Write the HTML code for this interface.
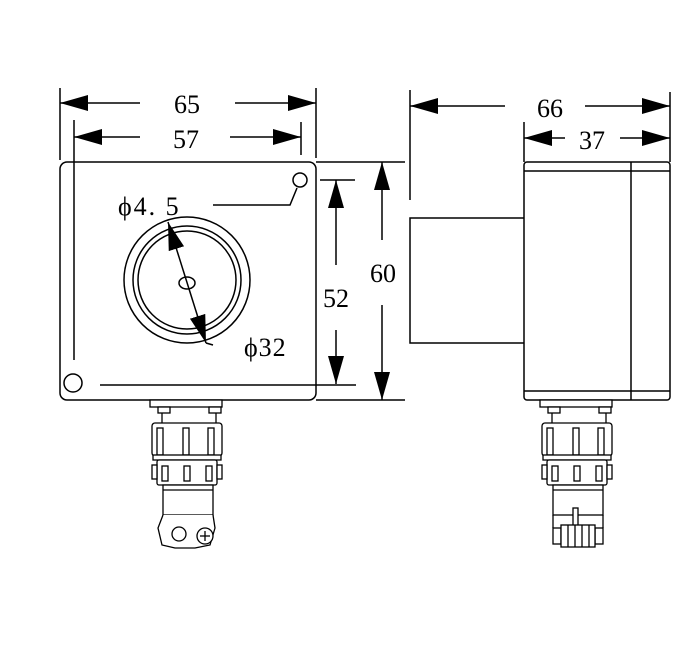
<!DOCTYPE html>
<html><head><meta charset="utf-8"><style>
html,body{margin:0;padding:0;background:#fff;}
svg{display:block;}
text{font-family:"Liberation Serif",serif;fill:#000;}
</style></head><body>
<svg width="700" height="653" viewBox="0 0 700 653" xmlns="http://www.w3.org/2000/svg">
<defs>
<marker id="b" viewBox="0 0 28 16" refX="28" refY="8" markerWidth="28" markerHeight="16" markerUnits="userSpaceOnUse" orient="auto-start-reverse"><path d="M0,0L28,8L0,16z" fill="#000"/></marker>
<g id="conn" fill="#fff" stroke="#000" stroke-width="1.3">
<rect x="150" y="400" width="72" height="7"/>
<rect x="158" y="407" width="12" height="6"/><rect x="209" y="407" width="12" height="6"/>
<line x1="162" y1="413" x2="162" y2="423"/><line x1="216" y1="413" x2="216" y2="423"/>
<rect x="152" y="423" width="70" height="33" rx="3"/>
<rect x="157" y="428" width="6" height="27"/><rect x="183" y="428" width="6" height="27"/><rect x="208" y="428" width="6" height="27"/>
<rect x="153" y="455" width="68" height="5"/>
<rect x="157" y="460" width="60" height="25" rx="2"/>
<rect x="152" y="465" width="5" height="14"/><rect x="217" y="465" width="5" height="14"/>
<rect x="162" y="466" width="6" height="15"/><rect x="184" y="466" width="6" height="15"/><rect x="206" y="466" width="6" height="15"/>
<rect x="163" y="485" width="50" height="30"/>
<line x1="163" y1="490" x2="213" y2="490"/>
</g>
</defs>
<g fill="none" stroke="#000" stroke-width="1.5">
<rect x="60" y="162" width="256" height="238" rx="7"/>
<line x1="74" y1="120" x2="74" y2="360"/>
<line x1="100" y1="385" x2="356" y2="385"/>
<line x1="316" y1="162" x2="405" y2="162"/>
<line x1="316" y1="400" x2="405" y2="400"/>
<line x1="320" y1="180" x2="355" y2="180"/>
<circle cx="300" cy="180" r="7"/>
<circle cx="73" cy="383" r="9"/>
<circle cx="187" cy="280" r="63"/>
<circle cx="187" cy="280" r="54"/>
<circle cx="187" cy="280" r="49"/>
<ellipse cx="187" cy="283" rx="8" ry="6"/>
<polyline points="297,188 290,205 213,205"/>
<line x1="206" y1="343" x2="213" y2="345"/>
<line x1="60" y1="88" x2="60" y2="160"/>
<line x1="316" y1="88" x2="316" y2="158"/>
<line x1="301" y1="122" x2="301" y2="155"/>
<line x1="410" y1="90" x2="410" y2="200"/>
<line x1="670" y1="92" x2="670" y2="162"/>
<line x1="524" y1="122" x2="524" y2="162"/>
<rect x="524" y="162" width="146" height="238" rx="3"/>
<line x1="524" y1="171" x2="670" y2="171"/>
<line x1="524" y1="391" x2="670" y2="391"/>
<line x1="631" y1="162" x2="631" y2="400"/>
<polyline points="524,218 410,218 410,343 524,343"/>
</g>
<g stroke="#000" stroke-width="1.5" fill="none">
<line x1="60" y1="103" x2="140" y2="103" marker-start="url(#b)"/>
<line x1="235" y1="103" x2="316" y2="103" marker-end="url(#b)"/>
<line x1="74" y1="137" x2="140" y2="137" marker-start="url(#b)"/>
<line x1="230" y1="137" x2="301" y2="137" marker-end="url(#b)"/>
<line x1="410" y1="106" x2="505" y2="106" marker-start="url(#b)"/>
<line x1="585" y1="106" x2="670" y2="106" marker-end="url(#b)"/>
<line x1="524" y1="138" x2="565" y2="138" marker-start="url(#b)"/>
<line x1="620" y1="138" x2="670" y2="138" marker-end="url(#b)"/>
<line x1="336" y1="180" x2="336" y2="265" marker-start="url(#b)"/>
<line x1="336" y1="330" x2="336" y2="384" marker-end="url(#b)"/>
<line x1="382" y1="162" x2="382" y2="240" marker-start="url(#b)"/>
<line x1="382" y1="305" x2="382" y2="400" marker-end="url(#b)"/>
<line x1="168" y1="222" x2="206" y2="343" marker-start="url(#b)" marker-end="url(#b)"/>
</g>
<use href="#conn"/>
<use href="#conn" transform="translate(390,0)"/>
<g fill="#fff" stroke="#000" stroke-width="1.3">
<path d="M163,515 L158,528 L162,545 L175,548 L195,548 L210,545 L215,528 L213,515"/>
<circle cx="179" cy="534" r="7"/>
<circle cx="205" cy="536" r="8"/>
<line x1="200" y1="536" x2="210" y2="536"/><line x1="205" y1="531" x2="205" y2="541"/>
<line x1="553" y1="515" x2="553" y2="528"/><line x1="603" y1="515" x2="603" y2="528"/>
<rect x="573" y="508" width="5" height="22"/>
<rect x="553" y="528" width="8" height="16"/><rect x="595" y="528" width="8" height="16"/>
<rect x="561" y="525" width="34" height="22"/>
<line x1="568" y1="525" x2="568" y2="547"/><line x1="575" y1="525" x2="575" y2="547"/><line x1="582" y1="525" x2="582" y2="547"/><line x1="589" y1="525" x2="589" y2="547"/>
</g>
<g font-size="26">
<text x="187" y="113" text-anchor="middle">65</text>
<text x="186" y="148" text-anchor="middle">57</text>
<text x="550" y="117" text-anchor="middle">66</text>
<text x="592" y="149" text-anchor="middle">37</text>
<text x="336" y="307" text-anchor="middle">52</text>
<text x="383" y="282" text-anchor="middle">60</text>
<text x="118" y="215" letter-spacing="2">ϕ4. 5</text>
<text x="244" y="356" letter-spacing="1">ϕ32</text>
</g>
</svg>
</body></html>
